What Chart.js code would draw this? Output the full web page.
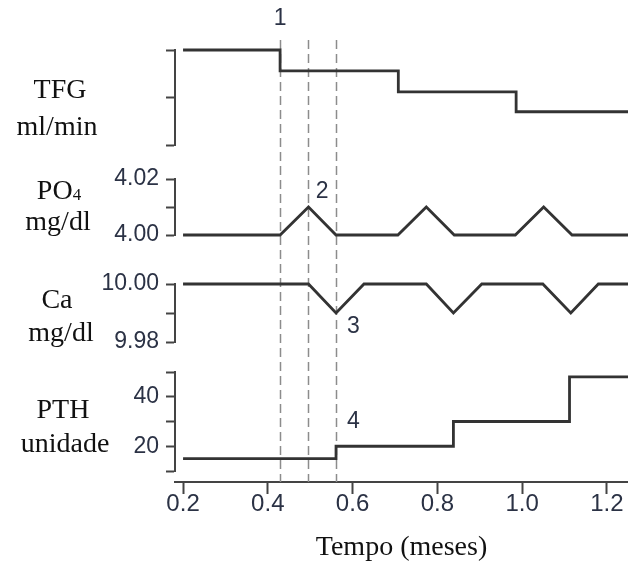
<!DOCTYPE html>
<html><head><meta charset="utf-8">
<script src="https://cdn.jsdelivr.net/npm/chart.js@4.4.1/dist/chart.umd.min.js"></script>
<style>html,body{margin:0;padding:0;background:#fff;}#wrap{width:628px;height:567px;}</style>
</head><body><div id="wrap"><canvas id="c" width="628" height="567"></canvas></div>
<script>
// ---- data ----
const xTicks = [0.2, 0.4, 0.6, 0.8, 1.0, 1.2];
const xTickLabels = ['0.2', '0.4', '0.6', '0.8', '1.0', '1.2'];

const tfgTimes = [0.2, 0.429, 0.708, 0.986, 1.25];
const tfgValues = [100, 78, 56, 35, 35];

const po4Times = [0.2, 0.429, 0.496, 0.561, 0.707, 0.774, 0.840, 0.984, 1.051, 1.118, 1.25];
const po4Values = [4.00, 4.00, 4.01, 4.00, 4.00, 4.01, 4.00, 4.00, 4.01, 4.00, 4.00];

const caTimes = [0.2, 0.496, 0.561, 0.627, 0.774, 0.838, 0.905, 1.049, 1.115, 1.180, 1.25];
const caValues = [10.00, 10.00, 9.99, 10.00, 10.00, 9.99, 10.00, 10.00, 9.99, 10.00, 10.00];

const pthTimes = [0.2, 0.561, 0.838, 1.112, 1.25];
const pthValues = [15, 20, 30, 48, 48];

const tfgTicks = [0, 50, 100];
const tfgTickLabels = ['', '', ''];
const po4Ticks = [4.00, 4.01, 4.02];
const po4TickLabels = ['4.00', '', '4.02'];
const caTicks = [9.98, 9.99, 10.00];
const caTickLabels = ['9.98', '', '10.00'];
const pthTicks = [10, 20, 30, 40, 50];
const pthTickLabels = ['', '20', '', '40', ''];

const eventTimes = [0.429, 0.496, 0.561];
const eventLabels = ['1', '2', '3', '4'];
const eventLabelX = [0.429, 0.528, 0.602, 0.602];
const eventLabelAxis = ['yTFG', 'yPO4', 'yCa', 'yPTH'];
const eventLabelY = [133.2, 4.0155, 9.9853, 30.0];

const panelAxes = ['yTFG', 'yPO4', 'yCa', 'yPTH'];
const panelTitleLine1 = ['TFG', 'PO', 'Ca', 'PTH'];
const panelTitleSub1 = ['', '4', '', ''];
const panelTitleLine2 = ['ml/min', 'mg/dl', 'mg/dl', 'unidade'];

// ---- styling / layout helpers ----
const AXIS_COLOR = '#444';
const TICK_COLOR = '#2b3245';
const LINE_COLOR = '#333';
const SERIF = 'Liberation Serif';
const SANS = 'Liberation Sans';
const LEFT_W = 175;

function panelScale(ticksArr, labelsArr, min, max, stackWeight, weight) {
  return {
    type: 'linear', position: 'left', stack: 'panels', stackWeight, weight,
    min, max,
    afterBuildTicks: s => { s.ticks = ticksArr.map(v => ({ value: v })); },
    afterFit: s => { s.width = LEFT_W; s.paddingTop = 0; s.paddingBottom = 0; },
    grid: { display: true, drawOnChartArea: false, drawTicks: true, tickLength: 9,
            tickColor: AXIS_COLOR, tickWidth: 2, color: AXIS_COLOR },
    border: { display: true, color: AXIS_COLOR, width: 2 },
    ticks: { display: true, autoSkip: false, padding: 7, color: TICK_COLOR,
             font: { family: SANS, size: 23 },
             callback: (v, i) => labelsArr[i] }
  };
}
function gapScale(stackWeight, weight) {
  return {
    type: 'linear', position: 'left', stack: 'panels', stackWeight, weight,
    min: 0, max: 1, display: true,
    afterFit: s => { s.width = LEFT_W; s.paddingTop = 0; s.paddingBottom = 0; },
    grid: { display: false }, border: { display: false }, ticks: { display: false }
  };
}

const toPts = (ts, vs) => ts.map((t, i) => ({ x: t, y: vs[i] }));

const eventLinesPlugin = {
  id: 'eventLines',
  beforeDatasetsDraw(chart) {
    const { ctx, chartArea, scales } = chart;
    ctx.save();
    ctx.strokeStyle = '#8c8c8c';
    ctx.lineWidth = 1.5;
    ctx.setLineDash([9, 5]);
    eventTimes.forEach(t => {
      const x = Math.round(scales.x.getPixelForValue(t)) + 0.5;
      ctx.beginPath();
      ctx.moveTo(x, chartArea.top);
      ctx.lineTo(x, chartArea.bottom);
      ctx.stroke();
    });
    ctx.restore();
  }
};

const textPlugin = {
  id: 'texts',
  afterDraw(chart) {
    const { ctx, scales } = chart;
    ctx.save();
    // event number labels
    ctx.fillStyle = TICK_COLOR;
    ctx.font = '23px "' + SANS + '"';
    ctx.textAlign = 'center';
    ctx.textBaseline = 'middle';
    eventLabels.forEach((lab, i) => {
      const x = scales.x.getPixelForValue(eventLabelX[i]);
      const y = scales[eventLabelAxis[i]].getPixelForValue(eventLabelY[i]);
      ctx.fillText(lab, x, y);
    });
    // panel titles (serif, horizontal)
    const off1 = [48, 20, 24, 46];
    const off2 = [85, 51, 57, 80];
    const cx1 = [60, 59, 57, 63];
    const cx2 = [57, 58, 61, 65];
    ctx.fillStyle = '#111';
    ctx.textBaseline = 'alphabetic';
    ctx.textAlign = 'left';
    panelAxes.forEach((id, i) => {
      const top = scales[id].top;
      ctx.font = '28px "' + SERIF + '"';
      const w1 = ctx.measureText(panelTitleLine1[i]).width;
      let wSub = 0;
      if (panelTitleSub1[i]) {
        ctx.font = '17px "' + SERIF + '"';
        wSub = ctx.measureText(panelTitleSub1[i]).width;
      }
      const x0 = cx1[i] - (w1 + wSub) / 2;
      ctx.font = '28px "' + SERIF + '"';
      ctx.fillText(panelTitleLine1[i], x0, top + off1[i]);
      if (panelTitleSub1[i]) {
        ctx.font = '17px "' + SERIF + '"';
        ctx.fillText(panelTitleSub1[i], x0 + w1, top + off1[i] + 1);
      }
      ctx.font = '28px "' + SERIF + '"';
      const w2 = ctx.measureText(panelTitleLine2[i]).width;
      ctx.fillText(panelTitleLine2[i], cx2[i] - w2 / 2, top + off2[i]);
    });
    ctx.restore();
  }
};

const lineDs = (ts, vs, axis, stepped) => ({
  data: toPts(ts, vs), xAxisID: 'x', yAxisID: axis,
  borderColor: LINE_COLOR, borderWidth: 2.8, pointRadius: 0, fill: false,
  tension: 0, stepped: stepped ? 'before' : false, clip: 4
});

new Chart(document.getElementById('c'), {
  type: 'line',
  data: {
    datasets: [
      lineDs(tfgTimes, tfgValues, 'yTFG', true),
      lineDs(po4Times, po4Values, 'yPO4', false),
      lineDs(caTimes, caValues, 'yCa', false),
      lineDs(pthTimes, pthValues, 'yPTH', true)
    ]
  },
  options: {
    responsive: false,
    animation: false,
    devicePixelRatio: 1,
    layout: { padding: { top: 40, left: 0, right: 0, bottom: 0 } },
    plugins: { legend: { display: false }, tooltip: { enabled: false } },
    scales: {
      x: {
        type: 'linear', position: 'bottom', min: 0.181, max: 1.25,
        afterBuildTicks: s => { s.ticks = xTicks.map(v => ({ value: v })); },
        afterFit: s => { s.height = 85; s.paddingLeft = 0; s.paddingRight = 0; },
        grid: { drawOnChartArea: false, drawTicks: true, tickLength: 12,
                tickColor: AXIS_COLOR, tickWidth: 2, color: AXIS_COLOR },
        border: { display: true, color: AXIS_COLOR, width: 2 },
        ticks: { autoSkip: false, maxRotation: 0, padding: -4, color: TICK_COLOR,
                 font: { family: SANS, size: 24 },
                 callback: (v, i) => xTickLabels[i] },
        title: { display: true, text: 'Tempo (meses)', color: '#111',
                 font: { family: SERIF, size: 28 }, padding: { top: 0, bottom: 3 } }
      },
      gTop: gapScale(10, 9),
      yTFG: panelScale(tfgTicks, tfgTickLabels, 0, 100, 95, 8),
      g1: gapScale(34, 7),
      yPO4: panelScale(po4Ticks, po4TickLabels, 4.00, 4.02, 56, 6),
      g2: gapScale(49, 5),
      yCa: panelScale(caTicks, caTickLabels, 9.98, 10.00, 58, 4),
      g3: gapScale(30, 3),
      yPTH: panelScale(pthTicks, pthTickLabels, 10, 50, 99, 2),
      gBot: gapScale(11, 1)
    }
  },
  plugins: [eventLinesPlugin, textPlugin]
});
</script>
</body></html>
